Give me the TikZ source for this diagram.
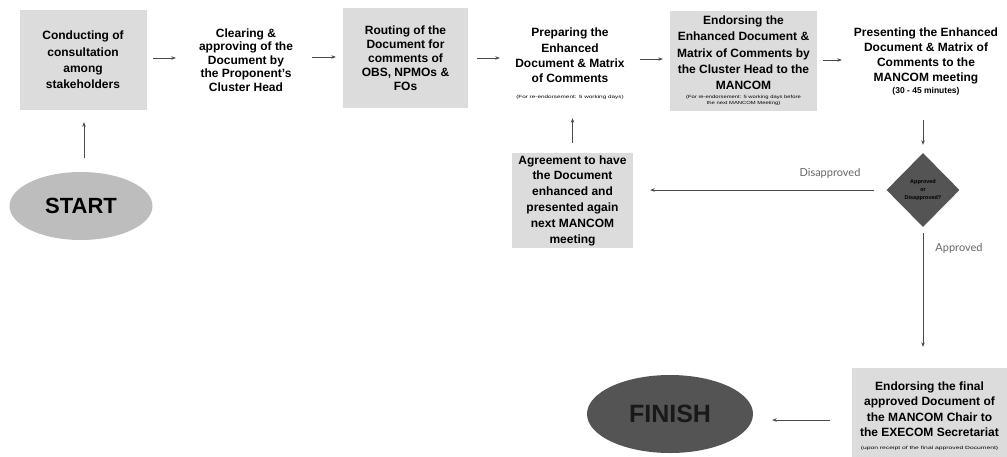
\documentclass[tikz,border=0pt]{standalone}
\usepackage{fontspec}
\setmainfont{Liberation Sans}
\newfontfamily\lightfont{Lato}
\usetikzlibrary{shapes.geometric,arrows.meta}
\definecolor{boxgray}{HTML}{DCDCDC}
\definecolor{startgray}{HTML}{BDBDBD}
\definecolor{darkgray2}{HTML}{545454}
\definecolor{arrowgray}{HTML}{4A4A4A}
\newcommand\tinyline[2][1.42]{\scalebox{#1}[1]{\fontsize{4.5}{5}\selectfont\mdseries #2}}
\begin{document}
\begin{tikzpicture}[x=1pt,y=-1pt,
  txt/.style={align=center, inner sep=0pt, text=black,
    font=\bfseries\fontsize{12}{15.5}\selectfont},
  box/.style={txt, fill=boxgray},
  conn/.style={draw=arrowgray, line width=0.6pt, -{Stealth[length=4.5pt,width=3.5pt]}},
  lbl/.style={font=\lightfont\fontsize{11}{12}\selectfont, text=black!60, inner sep=0pt}]
\useasboundingbox (0,0) rectangle (1007,456);

\node[box, minimum width=127, minimum height=100, font=\bfseries\fontsize{12}{16.3}\selectfont] (c1) at (83,60)
  {Conducting of\\consultation\\among\\stakeholders};
\node[txt, minimum width=130, minimum height=90, font=\bfseries\fontsize{12}{13.6}\selectfont] (c2) at (246,60)
  {Clearing \&\\approving of the\\Document by\\the Proponent's\\Cluster Head};
\node[box, minimum width=125, minimum height=100, font=\bfseries\fontsize{12}{14}\selectfont] (c3) at (405.5,58)
  {Routing of the\\Document for\\comments of\\OBS, NPMOs \&\\FOs};
\node[txt, minimum width=130, minimum height=90, font=\bfseries\fontsize{12}{15.3}\selectfont] (c4) at (570,64)
  {Preparing the\\Enhanced\\Document \& Matrix\\of Comments\\[1pt]\tinyline{(For re-endorsement: 5 working days)}};
\node[box, minimum width=147, minimum height=100, font=\bfseries\fontsize{12}{16.2}\selectfont] (c5) at (743.5,61)
  {Endorsing the\\Enhanced Document \&\\Matrix of Comments by\\the Cluster Head to the\\MANCOM\\[-7pt]\tinyline[1.3]{(For re-endorsement: 5 working days before}\\[-10pt]\tinyline[1.3]{the next MANCOM Meeting)}};
\node[txt, minimum width=150, minimum height=100, font=\bfseries\fontsize{12}{15}\selectfont] (c6) at (926,62)
  {Presenting the Enhanced\\Document \& Matrix of\\Comments to the\\MANCOM meeting\\[-3pt]{\fontsize{8.5}{10}\selectfont(30 - 45 minutes)}};

\node[diamond, fill=darkgray2, minimum width=73, minimum height=74, inner sep=0pt,
  align=center, font=\bfseries\fontsize{5.5}{8}\selectfont] (d) at (923,190)
  {Approved\\or\\Disapproved?};

\node[box, minimum width=121, minimum height=95, font=\bfseries\fontsize{12}{15.8}\selectfont] (a) at (572.5,200.5)
  {Agreement to have\\the Document\\enhanced and\\presented again\\next MANCOM\\meeting};

\node[box, minimum width=155, minimum height=96, font=\bfseries\fontsize{12}{15.5}\selectfont] (f) at (929.5,416)
  {Endorsing the final\\approved Document of\\the MANCOM Chair to\\the EXECOM Secretariat\\[-3pt]\tinyline[1.5]{(upon receipt of the final approved Document)}};

\node[ellipse, fill=startgray, minimum width=143, minimum height=68, inner sep=0pt,
  font=\bfseries\fontsize{22}{24}\selectfont] (st) at (81,206) {START};
\node[ellipse, fill=darkgray2, minimum width=166, minimum height=78, inner sep=0pt,
  text=black!90, font=\bfseries\fontsize{25}{27}\selectfont] (fin) at (670,414) {FINISH};

\draw[conn, shorten <=6.5pt, shorten >=5pt] (c1.east |- 0,58) -- (c2.west |- 0,58);
\draw[conn, shorten <=1pt, shorten >=7pt] (c2.east |- 0,57) -- (c3.west |- 0,57);
\draw[conn, shorten <=9pt, shorten >=5pt] (c3.east) -- (c4.west |- c3.east);
\draw[conn, shorten <=5pt, shorten >=7pt] (c4.east |- 0,59) -- (c5.west |- 0,59);
\draw[conn, shorten <=6pt, shorten >=9pt] (c5.east |- 0,60) -- (c6.west |- 0,60);
\draw[conn, shorten <=8pt, shorten >=8pt] (d.north |- c6.south) -- (d.north);
\draw[conn, shorten <=12pt, shorten >=17pt] (d.west) -- (d.west -| a.east);
\draw[conn, shorten <=10pt, shorten >=9pt] (a.north) -- (a.north |- c4.south);
\draw[conn, shorten <=6pt, shorten >=21pt] (d.south) -- (d.south |- f.north);
\draw[conn, shorten <=22pt, shorten >=19pt] (f.west |- 0,420) -- (fin.east |- 0,420);
\draw[conn, shorten <=14pt, shorten >=12pt] (st.north -| 84,0) -- (c1.south -| 84,0);

\node[lbl] (ldis) at (830,173) {Disapproved};
\node[lbl] (lapp) at (959,248) {Approved};
\end{tikzpicture}
\end{document}
